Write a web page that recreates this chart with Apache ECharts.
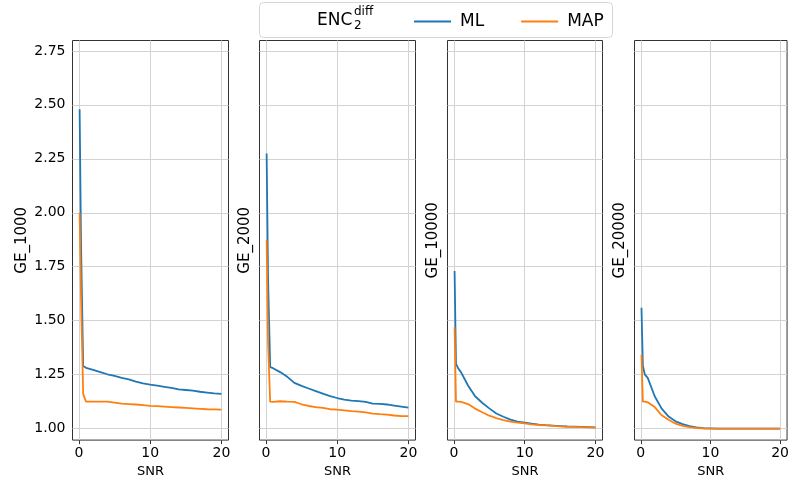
<!DOCTYPE html>
<html>
<head>
<meta charset="utf-8">
<script src="https://cdn.jsdelivr.net/npm/echarts@6/dist/echarts.min.js"></script>
<style>
  html, body { margin: 0; padding: 0; background: #fff; }
  #chart { width: 792px; height: 483px; }
</style>
</head>
<body>
<div id="chart"></div>
<script>
// SNR sample points
const snr = [0.1, 0.3, 0.6, 1, 2, 3, 4, 5, 6, 7, 8, 9, 10, 11, 12, 13, 14, 15, 16, 17, 18, 19, 20];

const ml1000 = [2.48, 1.85, 1.29, 1.282, 1.272, 1.262, 1.252, 1.244, 1.235, 1.228, 1.218, 1.210, 1.204, 1.199, 1.194, 1.189, 1.182, 1.179, 1.176, 1.171, 1.167, 1.163, 1.161];
const map1000 = [2.0, 1.6, 1.16, 1.125, 1.125, 1.125, 1.125, 1.121, 1.116, 1.114, 1.112, 1.109, 1.106, 1.104, 1.102, 1.100, 1.098, 1.096, 1.094, 1.092, 1.090, 1.089, 1.088];

const ml2000 = [2.275, 1.7, 1.285, 1.280, 1.262, 1.240, 1.212, 1.198, 1.186, 1.174, 1.162, 1.151, 1.142, 1.134, 1.130, 1.128, 1.124, 1.116, 1.115, 1.112, 1.107, 1.102, 1.097];
const map2000 = [1.875, 1.4, 1.125, 1.124, 1.127, 1.125, 1.124, 1.113, 1.105, 1.100, 1.096, 1.090, 1.088, 1.085, 1.081, 1.079, 1.075, 1.070, 1.067, 1.065, 1.061, 1.058, 1.058];

const ml10000 = [1.73, 1.30, 1.28, 1.262, 1.20, 1.15, 1.12, 1.094, 1.07, 1.055, 1.042, 1.033, 1.028, 1.023, 1.019, 1.016, 1.014, 1.012, 1.010, 1.009, 1.008, 1.007, 1.006];
const map10000 = [1.47, 1.125, 1.125, 1.124, 1.114, 1.093, 1.076, 1.06, 1.049, 1.04, 1.033, 1.028, 1.024, 1.020, 1.017, 1.015, 1.013, 1.011, 1.009, 1.008, 1.007, 1.006, 1.005];

const ml20000 = [1.56, 1.29, 1.25, 1.235, 1.15, 1.093, 1.056, 1.034, 1.021, 1.012, 1.006, 1.002, 1.001, 1.0, 1.0, 1.0, 1.0, 1.0, 1.0, 1.0, 1.0, 1.0, 1.0];
const map20000 = [1.343, 1.125, 1.125, 1.122, 1.10, 1.062, 1.041, 1.023, 1.013, 1.007, 1.003, 1.001, 1.0, 1.0, 1.0, 1.0, 1.0, 1.0, 1.0, 1.0, 1.0, 1.0, 1.0];

const panelNames = ['GE_1000', 'GE_2000', 'GE_10000', 'GE_20000'];
const mlSeries = [ml1000, ml2000, ml10000, ml20000];
const mapSeries = [map1000, map2000, map10000, map20000];

const xTicks = [0, 10, 20];
const yTicks = [1, 1.25, 1.5, 1.75, 2, 2.25, 2.5, 2.75];

const FONT = 'DejaVu Sans';
const gridLefts = [72.5, 259.5, 447.5, 634.5];
const gridWidths = [156, 156, 155, 155];

const chart = echarts.init(document.getElementById('chart'));

const pairs = (ys) => snr.map((x, i) => [x, ys[i]]);

const grid = [], xAxis = [], yAxis = [], series = [];

panelNames.forEach((name, i) => {
    grid.push({
        left: gridLefts[i], top: 40.5, width: gridWidths[i], height: 400,
        show: true, borderColor: '#333', borderWidth: 1, backgroundColor: 'transparent'
    });
    xAxis.push({
        gridIndex: i, type: 'value', min: -0.9, max: 21,
        name: 'SNR', nameLocation: 'middle', nameGap: 20,
        nameTextStyle: { fontFamily: FONT, fontSize: 13, color: '#000' },
        axisLine: { show: false },
        axisTick: { show: true, length: 4, customValues: xTicks, lineStyle: { color: '#333' } },
        axisLabel: { customValues: xTicks, fontFamily: FONT, fontSize: 14, color: '#000', margin: 6 },
        splitLine: { show: false }
    });
    yAxis.push({
        gridIndex: i, type: 'value', min: 0.947, max: 2.798,
        name: name, nameLocation: 'middle', nameGap: i === 0 ? 43 : 7,
        nameTextStyle: { fontFamily: FONT, fontSize: 15, color: '#000' },
        axisLine: { show: false },
        axisTick: { show: true, length: 4, customValues: yTicks, lineStyle: { color: '#333' } },
        axisLabel: {
            show: i === 0, customValues: yTicks, fontFamily: FONT, fontSize: 14, color: '#000', margin: 7,
            formatter: (v) => v.toFixed(2)
        },
        splitLine: { show: false }
    });
    // grid lines
    series.push({
        type: 'line', xAxisIndex: i, yAxisIndex: i, data: [], silent: true, z: 1,
        markLine: {
            silent: true, symbol: 'none', animation: false, z: 1,
            label: { show: false },
            lineStyle: { type: 'solid', color: '#d3d3d3', width: 1 },
            data: xTicks.map(v => ({ xAxis: v })).concat(yTicks.map(v => ({ yAxis: v })))
        }
    });
    series.push({
        name: 'ML', type: 'line', xAxisIndex: i, yAxisIndex: i, z: 10,
        data: pairs(mlSeries[i]), showSymbol: false, symbol: 'none',
        lineStyle: { color: '#1f77b4', width: 1.8 }, itemStyle: { color: '#1f77b4' }
    });
    series.push({
        name: 'MAP', type: 'line', xAxisIndex: i, yAxisIndex: i, z: 11,
        data: pairs(mapSeries[i]), showSymbol: false, symbol: 'none',
        lineStyle: { color: '#ff7f0e', width: 1.8 }, itemStyle: { color: '#ff7f0e' }
    });
});

const option = {
    animation: false,
    backgroundColor: '#fff',
    grid: grid,
    xAxis: xAxis,
    yAxis: yAxis,
    legend: {
        data: ['ML', 'MAP'],
        left: 409, top: 8,
        icon: 'rect', itemWidth: 37, itemHeight: 2, itemGap: 37,
        textStyle: { fontFamily: FONT, fontSize: 17, color: '#000', padding: [0, 0, 0, 4] },
        selectedMode: false
    },
    graphic: [
        {
            type: 'rect', z: 0,
            shape: { x: 259.5, y: 2.5, width: 353, height: 35, r: 4 },
            style: { fill: 'rgba(255,255,255,0.8)', stroke: '#d6d6d6', lineWidth: 1 }
        },
        {
            type: 'text', left: 317, top: 12, z: 5,
            style: { text: 'ENC', font: '17px "DejaVu Sans"', fill: '#000' }
        },
        {
            type: 'text', left: 354, top: 6, z: 5,
            style: { text: 'diff', font: '12px "DejaVu Sans"', fill: '#000' }
        },
        {
            type: 'text', left: 354, top: 20, z: 5,
            style: { text: '2', font: '12px "DejaVu Sans"', fill: '#000' }
        }
    ],
    series: series
};

chart.setOption(option);
</script>
</body>
</html>
